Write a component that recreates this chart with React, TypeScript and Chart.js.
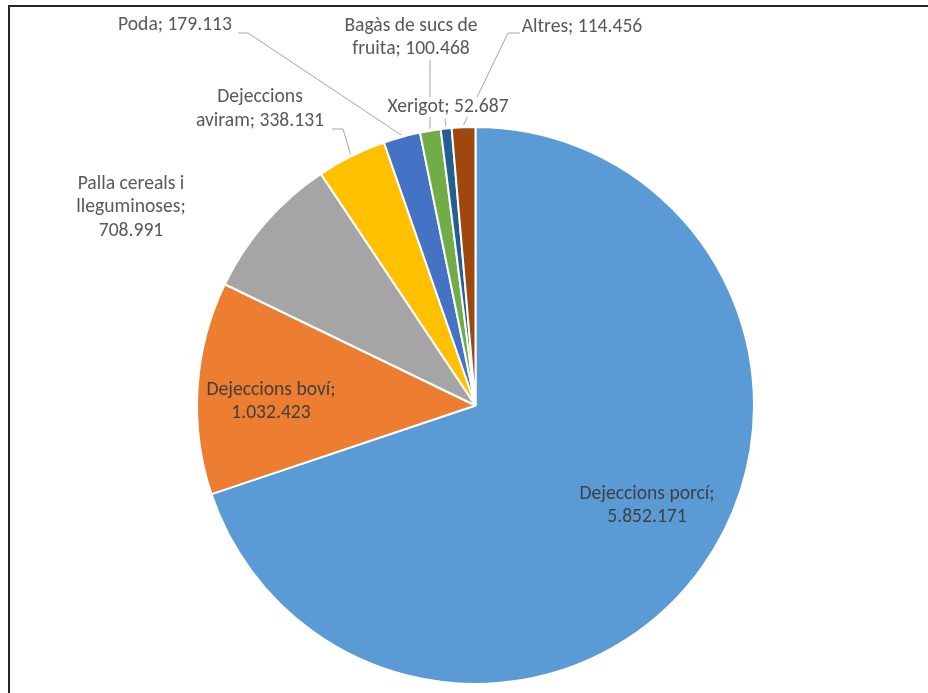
import React, { useEffect, useRef } from "react";
import { Chart, registerables } from "chart.js";

Chart.register(...registerables);

// ---- data ----
const categories = [
  "Dejeccions porcí",
  "Dejeccions boví",
  "Palla cereals i lleguminoses",
  "Dejeccions aviram",
  "Poda",
  "Bagàs de sucs de fruita",
  "Xerigot",
  "Altres",
];
const values = [5852171, 1032423, 708991, 338131, 179113, 100468, 52687, 114456];
const valueLabels = ["5.852.171", "1.032.423", "708.991", "338.131", "179.113", "100.468", "52.687", "114.456"];
// words per line when the label "category; value" wraps
const wrapWords = [[2, 1], [2, 1], [3, 1, 1], [1, 2], [2], [4, 2], [2], [2]];

// ---- style ----
const colors = ["#5B9BD5", "#ED7D31", "#A5A5A5", "#FFC000", "#4472C4", "#70AD47", "#255E91", "#9E480E"];
const FONT = "Carlito, Lato, sans-serif";
const FONT_SIZE = 19.6;
const LINE_H = 23.5;
// label centre (x, y of first line), text colour, leader-line elbow points
const labelLayout: { x: number; y: number; color: string; leader?: number[][]; mask?: boolean }[] = [
  { x: 647, y: 494, color: "#404040" },
  { x: 271, y: 390, color: "#404040" },
  { x: 131, y: 184, color: "#595959" },
  { x: 260, y: 97.5, color: "#595959", leader: [[332, 129], [343, 129]] },
  { x: 175, y: 25.5, color: "#595959", leader: [[238, 33], [248, 33]] },
  { x: 411, y: 26, color: "#595959", leader: [[430, 60]] },
  { x: 448, y: 107, color: "#595959", leader: [[445, 119]], mask: true },
  { x: 582, y: 27, color: "#595959", leader: [[520, 33], [508, 33]] },
];

function labelLines(i: number): string[] {
  const words = `${categories[i]}; ${valueLabels[i]}`.split(" ");
  const out: string[] = [];
  let k = 0;
  for (const n of wrapWords[i]) {
    out.push(words.slice(k, k + n).join(" "));
    k += n;
  }
  return out;
}

const labelPlugin = {
  id: "pieLabels",
  afterDatasetsDraw(chart: any) {
    const ctx = chart.ctx as CanvasRenderingContext2D;
    const meta = chart.getDatasetMeta(0);
    ctx.save();
    ctx.font = `${FONT_SIZE}px ${FONT}`;
    ctx.textAlign = "center";
    ctx.textBaseline = "middle";
    // leader lines
    meta.data.forEach((arc: any, i: number) => {
      const L = labelLayout[i];
      if (!L.leader) return;
      const p = arc.getProps(["x", "y", "startAngle", "endAngle", "outerRadius"], true);
      const mid = (p.startAngle + p.endAngle) / 2;
      const ex = p.x + Math.cos(mid) * (p.outerRadius + 2);
      const ey = p.y + Math.sin(mid) * (p.outerRadius + 2);
      ctx.beginPath();
      ctx.strokeStyle = "#A6A6A6";
      ctx.lineWidth = 1;
      ctx.moveTo(L.leader[0][0], L.leader[0][1]);
      for (let k = 1; k < L.leader.length; k++) ctx.lineTo(L.leader[k][0], L.leader[k][1]);
      ctx.lineTo(ex, ey);
      ctx.stroke();
    });
    // texts
    meta.data.forEach((_arc: any, i: number) => {
      const L = labelLayout[i];
      const lines = labelLines(i);
      if (L.mask) {
        ctx.fillStyle = "#ffffff";
        lines.forEach((t, k) => {
          const w = ctx.measureText(t).width;
          ctx.fillRect(L.x - w / 2 - 2, L.y + k * LINE_H - 10, w + 4, 20);
        });
      }
      ctx.fillStyle = L.color;
      lines.forEach((t, k) => ctx.fillText(t, L.x, L.y + k * LINE_H));
    });
    ctx.restore();
  },
};

const framePlugin = {
  id: "frame",
  beforeDraw(chart: any) {
    const ctx = chart.ctx as CanvasRenderingContext2D;
    ctx.save();
    ctx.fillStyle = "#ffffff";
    ctx.fillRect(0, 0, chart.width, chart.height);
    ctx.restore();
  },
  afterDraw(chart: any) {
    const ctx = chart.ctx as CanvasRenderingContext2D;
    ctx.save();
    ctx.strokeStyle = "#262626";
    ctx.lineWidth = 2;
    ctx.strokeRect(9, 6, chart.width + 50, chart.height + 50);
    ctx.restore();
  },
};

export default function App() {
  const ref = useRef<HTMLCanvasElement>(null);
  useEffect(() => {
    if (!ref.current) return;
    const chart = new Chart(ref.current, {
      type: "pie",
      data: {
        labels: categories,
        datasets: [
          {
            data: values,
            backgroundColor: colors,
            borderColor: "#ffffff",
            borderWidth: 2,
          },
        ],
      },
      options: {
        responsive: false,
        animation: false,
        layout: { padding: { left: 196, right: 173, top: 126, bottom: 8 } },
        plugins: {
          legend: { display: false },
          tooltip: { enabled: false },
        },
      },
      plugins: [labelPlugin, framePlugin],
    });
    return () => chart.destroy();
  }, []);
  return (
    <div style={{ position: "absolute", left: 0, top: 0, width: 928, height: 693 }}>
      <canvas ref={ref} width={928} height={693} style={{ display: "block" }} />
    </div>
  );
}
